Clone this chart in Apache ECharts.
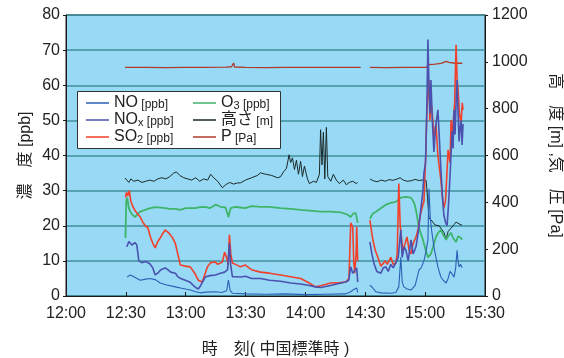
<!DOCTYPE html>
<html>
<head>
<meta charset="utf-8">
<script src="https://cdn.jsdelivr.net/npm/echarts@6/dist/echarts.min.js"></script>
<style>
  html, body { margin: 0; padding: 0; background: #fff; }
  #chart { width: 564px; height: 358px; }
</style>
</head>
<body>
<div id="chart"></div>
<script>
// 横軸: 12:00 からの経過分
const timeLabels = ['12:00', '12:30', '13:00', '13:30', '14:00', '14:30', '15:00', '15:30']

// 濃度 [ppb]（左軸）。null は欠測区間
const noData = [
  [30.7, 5.4], [32.2, 6], [34, 5.5], [37.2, 4.5], [40, 4.8], [42.2, 5], [45, 4.6], [47.2, 3.7], [50, 3.2],
  [54.8, 2.6], [58, 2.2], [62.3, 1.7], [65, 1.2], [67.3, 0.9], [70, 1.1], [74.9, 1.2], [78, 1.0], [80.5, 1.5],
  [81.4, 4.5], [82.3, 1.5], [83.4, 0.8], [90, 0.6], [100, 0.5], [110, 0.6], [120, 0.4], [130, 0.5], [140, 0.6],
  [142.7, 1.2], [144, 1.8], [145.7, 2.3], [146.2, 1],
  [149, null],
  [152.3, 3.1], [153.5, 2.5], [155.3, 1.2], [158, 0.9], [162.8, 0.8], [165.3, 1], [166.8, 2.6], [167.8, 11],
  [168.5, 4], [169.3, 2.6], [171, 2], [172.9, 1.7], [175, 3], [176.9, 7.4], [178, 8], [179.4, 10], [180.5, 13],
  [181.4, 16], [181.9, 30.5], [182.6, 22], [183.4, 18], [184.4, 14], [185.4, 11], [186.5, 8], [187.9, 5.4],
  [189, 4.5], [190.5, 3.7], [191.5, 5], [192.5, 7], [193, 7.4], [193.8, 6], [194.5, 5.4], [195.3, 8], [196, 13],
  [196.5, 10], [197, 8.3], [197.8, 9], [198.5, 8]
]
const noxData = [
  [30.5, 14], [31.5, 15.5], [33, 14.5], [34.5, 15.2], [35.5, 14.5], [36.5, 10], [38, 9.5], [40, 9.8], [42, 9.2],
  [43.5, 8], [44.7, 6], [46, 6.5], [47.5, 7.5], [49.7, 8], [51, 7.5], [52.5, 6.8], [54.8, 6.5], [56, 5.5],
  [57.5, 5], [59.8, 4.5], [62, 4], [64.8, 2.5], [66.3, 2], [67.3, 2.8], [69.8, 5.4], [72, 5.8], [74.9, 6],
  [77.4, 6.5], [79.5, 6.8], [81, 7.5], [81.9, 15], [82.5, 9], [83.4, 5.5], [85, 5.5], [87.4, 5.4], [90, 5.6],
  [93, 5], [97.5, 5], [102, 4.5], [107.5, 4.2], [112.6, 3.7], [117.6, 3.4], [122, 3], [125, 2.6], [127.6, 2.4],
  [132.7, 3], [137.7, 3.7], [140.2, 4], [141.7, 4.5], [142.7, 8.3], [143.7, 6.5], [144.7, 7], [145.7, 8], [146.2, 4],
  [149, null],
  [152.3, 15.4], [153.3, 12], [154.5, 9], [155.8, 7], [157.8, 6.5], [159, 8], [160.3, 8.3], [161.5, 7], [162.8, 9],
  [164, 8], [165.3, 9.4], [166.5, 11], [167.8, 18.8], [168.5, 11], [169.5, 14], [170.4, 13], [171.5, 10],
  [172.9, 16], [174, 12], [175.4, 14], [176.5, 18], [177.9, 25], [178.9, 30], [179.4, 35], [180.2, 38],
  [180.9, 55], [181.4, 73], [181.9, 60], [182.4, 52], [182.9, 61.5], [183.6, 50], [184.4, 41], [185.2, 48],
  [186.4, 53], [187.2, 44], [187.9, 36], [188.7, 28], [189.4, 23], [190.2, 21], [191, 20], [191.7, 26],
  [192.5, 34.5], [193.5, 47], [194, 42], [194.5, 53], [195, 46], [195.5, 55], [196, 61.5], [196.5, 52],
  [197, 44], [197.5, 48], [198, 50], [198.5, 43], [199, 49]
]
const so2Data = [
  [29.8, 28], [30.3, 29.5], [31, 28.5], [31.7, 30], [32.5, 27], [33.5, 25.4], [35, 24], [36, 23.5], [37.2, 22.5],
  [38.5, 21], [39.7, 20], [41, 19.5], [42.2, 17], [43.5, 15], [44.7, 13.7], [46, 15.5], [47.2, 16.5], [48.5, 17.8],
  [49.7, 18.8], [51, 18.2], [52.3, 17.4], [53.5, 16.5], [54.8, 15], [56, 12], [57.3, 8.8], [59.8, 8.5],
  [62.3, 8.3], [64.5, 6.5], [66.3, 4.5], [68.3, 4], [69.5, 6], [70.9, 8.3], [72.5, 9.5], [74.9, 9.7], [76, 9],
  [78.4, 9.7], [79.5, 12.5], [80.4, 11], [81.3, 9], [81.9, 17.4], [82.6, 12], [83.4, 9.4], [85, 9], [87.4, 8.3],
  [89.9, 8.8], [93, 7.5], [97.5, 6.8], [102, 6.5], [107.5, 6], [112.6, 5.5], [117.6, 5], [121, 4], [125.1, 2.6],
  [128, 3], [132.7, 3.7], [137.7, 3.8], [140.2, 4], [141.8, 5], [142.7, 20.8], [143.7, 19.7], [144.2, 10],
  [144.7, 6.5], [145.4, 12], [145.7, 19.7], [146.2, 10],
  [149, null],
  [152.3, 21.6], [153.8, 16], [155, 13], [156.3, 11], [157.8, 8.5], [158.8, 8.3], [160, 10], [161, 9],
  [162.8, 11], [164, 9], [165.3, 9.4], [166, 12], [166.8, 32], [167.5, 20], [168.8, 13], [170, 15], [170.9, 16.8],
  [172, 13], [172.9, 12], [174, 15], [175.4, 16.8], [176.5, 19], [177.4, 22.5], [178.4, 25], [179.4, 27],
  [180.3, 40], [181, 55], [181.9, 61.5], [182.4, 50], [182.9, 56], [183.6, 52], [184.4, 45], [185.4, 49],
  [186.4, 40], [187.9, 33], [188.7, 28], [189.4, 25], [190.2, 27], [191.5, 41.6], [192.5, 38], [193, 50],
  [193.6, 45], [194, 49], [194.8, 55], [195.5, 71.5], [196, 62], [196.5, 58.7], [197.2, 52], [198, 48.7],
  [198.6, 55], [199, 53]
]
const o3Data = [
  [29.8, 16.5], [30.2, 27], [30.7, 28], [31.5, 25], [32.2, 24], [33.5, 23], [34.7, 22.5], [36, 23.5], [37.2, 24],
  [39.7, 24.5], [42.2, 25], [45, 25.3], [49.7, 25], [52, 24.8], [54.8, 24.8], [57.3, 24.5], [60, 25], [64.8, 25],
  [67, 25.3], [69.8, 25.4], [72, 25], [75, 26], [77.4, 25.4], [80, 25.2], [81.4, 22.5], [82.5, 25], [84.9, 25.4],
  [87.4, 25.2], [89.9, 25], [93, 25.6], [97.5, 25.4], [102, 25.4], [107.5, 25], [112.6, 24.8], [117.6, 24.5],
  [122, 24.3], [127.6, 24], [132.7, 24], [137.7, 23.8], [141, 23.2], [142.7, 22.5], [144, 23.5], [145.2, 23.6],
  [146.2, 20.8],
  [149, null],
  [152.3, 22], [153.8, 23.5], [155.3, 24], [157.8, 25], [160.3, 26], [162.8, 26.5], [165.3, 26.8], [167.8, 28],
  [170.4, 28.2], [172.9, 28], [174.5, 26.5], [175.4, 24.5], [176.9, 19.4], [178.9, 16], [180.3, 13], [181.4, 11],
  [182.9, 12], [184, 14], [185.4, 16.8], [186.5, 18], [187.9, 18.8], [189, 17.5], [190.5, 16], [191.5, 17],
  [193, 18], [194, 16.5], [195.5, 15.4], [196.5, 17], [197, 16.8], [198, 16.5], [198.5, 16]
]

// 高さ [m]・気圧 P [Pa]（右軸）
const heightData = [
  [29.5, 504], [30.5, 495], [31.5, 485], [32.5, 500], [34, 490], [36, 495], [38, 485], [40, 490], [42, 495],
  [44, 490], [46, 500], [48, 505], [50, 500], [52, 510], [54, 525], [55.3, 530], [57, 515], [59, 505], [61, 500],
  [63, 495], [65, 505], [67, 490], [69, 500], [71, 495], [72.5, 520], [74, 505], [76, 490], [78.4, 462], [80, 475],
  [82, 485], [84, 478], [86, 483], [87.4, 483], [90, 495], [93, 505], [96, 515], [97.5, 526], [100, 520],
  [103, 515], [106, 505], [107.5, 509], [109, 530], [110.5, 545], [111.8, 603], [112.6, 570], [113.5, 590],
  [114.5, 540], [115.5, 580], [116.5, 520], [117.6, 575], [118.5, 510], [119.5, 555], [121, 500], [122, 480],
  [124, 490], [125.5, 485], [127, 520], [127.6, 710], [128.3, 560], [129, 700], [129.7, 500], [130.5, 720],
  [131.2, 510], [132.7, 490], [134, 520], [135.5, 495], [137, 480], [139, 495], [140.5, 475], [142, 485],
  [143.7, 490], [145.5, 480], [146.2, 485],
  [149, null],
  [152.3, 500], [154, 492], [156, 488], [158, 495], [160, 490], [162, 497], [164, 494], [166, 500], [167.5, 505],
  [169, 495], [171, 490], [173, 492], [175, 498], [177, 493], [179, 496], [180.5, 494], [181.2, 420], [181.9, 333],
  [183, 325], [185, 303], [187, 300], [188, 295], [189.5, 270], [190.5, 240], [191.5, 275], [193, 290],
  [194.5, 305], [195.5, 316], [196.5, 312], [198, 303], [198.5, 305]
]
const pressureData = [
  [29.6, 976], [40, 976], [50, 975.5], [60, 976], [70, 976], [80, 977], [83, 979], [84, 995], [84.5, 978],
  [90, 976], [100, 975.5], [110, 976.5], [120, 976], [130, 976.5], [140, 976], [147.7, 976],
  [149.5, null],
  [152.3, 976], [160, 975.5], [170, 976], [180.5, 976], [181.4, 977], [182, 988], [185, 990], [188, 993],
  [190.5, 1002], [192, 998], [195, 994], [198, 994], [198.6, 994]
]

const FONT = '"Liberation Sans", Arial, "Noto Sans CJK JP", sans-serif'

const legendLabels = {
  'NO': '{m|NO} {u|[ppb]}',
  'NOx': '{m|NO}{s|x} {u|[ppb]}',
  'SO2': '{m|SO}{s|2} {u|[ppb]}',
  'O3': '{m|O}{s|3} {u|[ppb]}',
  '高さ': '{m|高さ} {u|[m]}',
  'P': '{m|P} {u|[Pa]}'
}
const legendText = {
  fontFamily: FONT,
  rich: {
    m: { fontSize: 16, fontFamily: FONT, color: '#222' },
    s: { fontSize: 11, fontFamily: FONT, color: '#222', verticalAlign: 'bottom', padding: [5, 0, 0, 0] },
    u: { fontSize: 12, fontFamily: FONT, color: '#222', verticalAlign: 'bottom', padding: [3, 0, 0, 0] }
  }
}
const legendBase = {
  orient: 'vertical',
  top: 90,
  itemGap: 1,
  itemWidth: 23,
  itemHeight: 1.5,
  icon: 'rect',
  z: 10,
  formatter: (name) => legendLabels[name],
  textStyle: legendText
}

const chart = echarts.init(document.getElementById('chart'))

const lineSeries = (name, data, color, width, yAxisIndex) => ({
  name,
  type: 'line',
  data,
  yAxisIndex,
  showSymbol: false,
  symbol: 'none',
  connectNulls: false,
  animation: false,
  lineStyle: { color, width },
  itemStyle: { color }
})

chart.setOption({
  animation: false,
  grid: {
    left: 66, right: 79, top: 15, bottom: 62,
    outerBoundsMode: 'none',
    show: true,
    backgroundColor: '#98d9f5',
    borderColor: '#1a1a1a',
    borderWidth: 1
  },
  graphic: [{
    type: 'rect',
    z: 9,
    shape: { x: 77.5, y: 91.5, width: 203, height: 57 },
    style: { fill: '#fff', stroke: '#333', lineWidth: 1 }
  }],
  legend: [
    Object.assign({}, legendBase, { left: 81, data: ['NO', 'NOx', 'SO2'] }),
    Object.assign({}, legendBase, { left: 188, data: ['O3', '高さ', 'P'] })
  ],
  xAxis: {
    type: 'value',
    min: 0,
    max: 210,
    interval: 30,
    name: '時　刻( 中国標準時 )',
    nameLocation: 'middle',
    nameGap: 46,
    nameMoveOverlap: false,
    nameTextStyle: { fontSize: 16, fontFamily: FONT, color: '#222' },
    axisLine: { lineStyle: { color: '#1a1a1a' } },
    axisTick: { inside: true, length: 4, lineStyle: { color: '#1a1a1a' } },
    axisLabel: {
      fontSize: 16, fontFamily: FONT, color: '#222', margin: 10,
      formatter: (v) => timeLabels[Math.round(v / 30)]
    },
    splitLine: { show: false }
  },
  yAxis: [{
    type: 'value',
    min: 0,
    max: 80,
    interval: 10,
    name: '濃　度 [ppb]',
    nameLocation: 'middle',
    nameGap: 32,
    nameMoveOverlap: false,
    nameTextStyle: { fontSize: 16, fontFamily: FONT, color: '#222' },
    axisLine: { show: true, lineStyle: { color: '#1a1a1a' } },
    axisTick: { show: true, length: 3, lineStyle: { color: '#1a1a1a' } },
    axisLabel: { fontSize: 16, fontFamily: FONT, color: '#222', margin: 6 },
    splitLine: { show: true, lineStyle: { color: '#3f8f9c', width: 1.5 } }
  }, {
    type: 'value',
    min: 0,
    max: 1200,
    interval: 200,
    name: '高　度 [m] ,気　圧 [Pa]',
    nameLocation: 'middle',
    nameRotate: -90,
    nameGap: 62,
    nameMoveOverlap: false,
    nameTextStyle: { fontSize: 16, fontFamily: FONT, color: '#222' },
    axisLine: { show: true, lineStyle: { color: '#1a1a1a' } },
    axisTick: { show: true, length: 3, lineStyle: { color: '#1a1a1a' } },
    axisLabel: { fontSize: 16, fontFamily: FONT, color: '#222', margin: 7, formatter: (v) => String(v) },
    splitLine: { show: false }
  }],
  series: [
    lineSeries('P', pressureData, '#b03a2a', 1.3, 1),
    lineSeries('高さ', heightData, '#1a2a28', 1, 1),
    lineSeries('O3', o3Data, '#3fb56a', 1.8, 0),
    lineSeries('SO2', so2Data, '#f2402a', 1.6, 0),
    lineSeries('NOx', noxData, '#4a52b0', 1.6, 0),
    lineSeries('NO', noData, '#2b5fb5', 1.1, 0)
  ]
})
</script>
</body>
</html>
